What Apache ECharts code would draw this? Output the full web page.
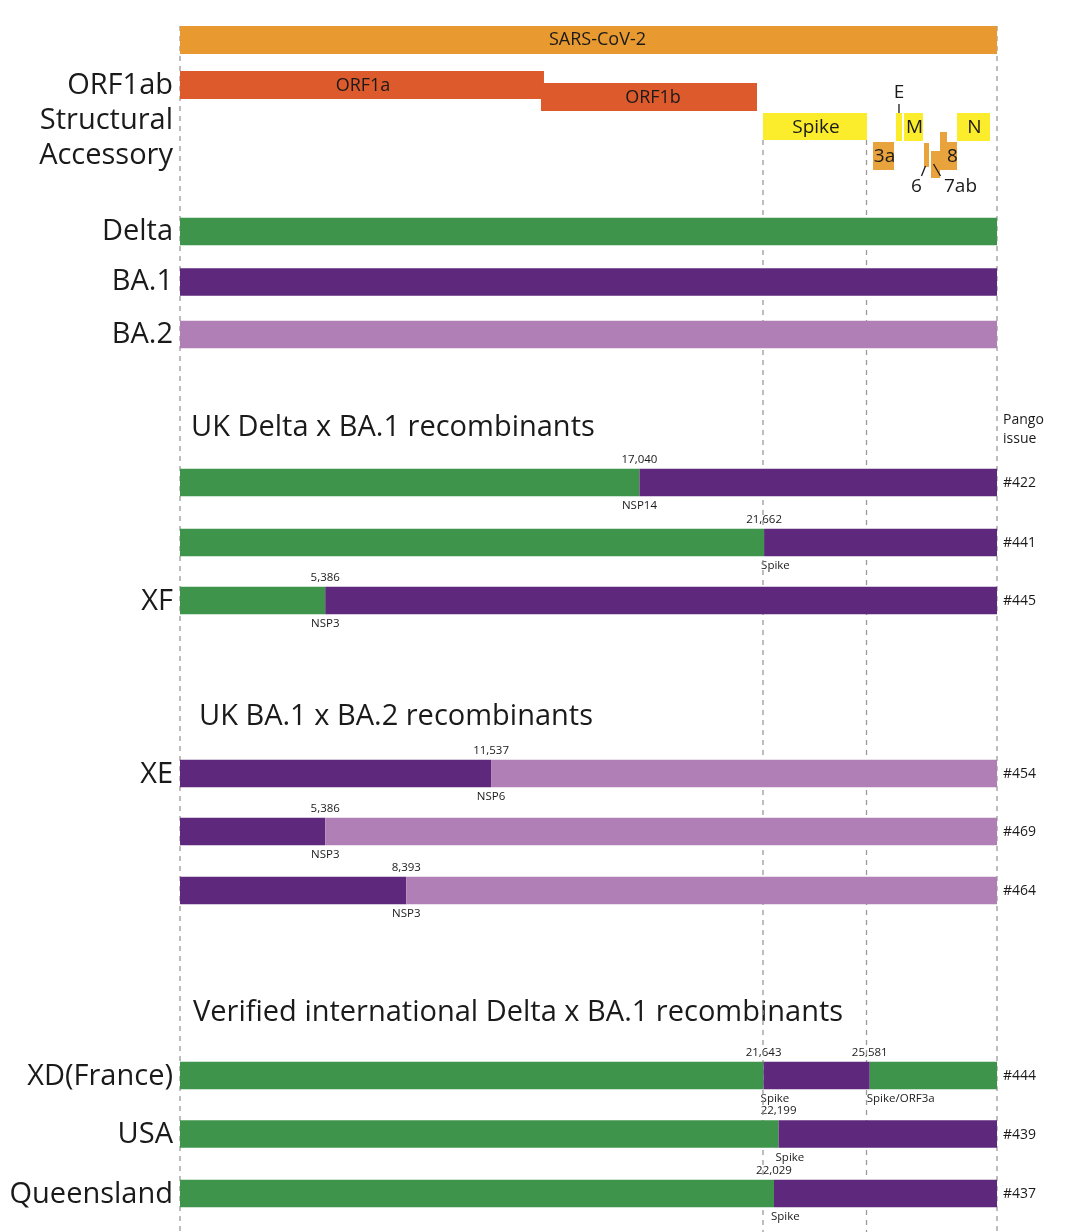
<!DOCTYPE html>
<html><head><meta charset="utf-8">
<script src="https://cdn.jsdelivr.net/npm/echarts@6/dist/echarts.min.js"></script>
<style>html,body{margin:0;padding:0;background:#fff}#c{width:1080px;height:1232px}</style>
</head><body><div id="c"></div>
<script>
// ---------------- DATA ----------------
const genomeSpan = 30300;               // drawn genome extent (schematic)
const genomeName = 'SARS-CoV-2';

const geneNames  = ['ORF1a','ORF1b','Spike','E','M','N','3a','6','7a','7b','8'];
const geneStart  = [0, 13388, 21621, 26554, 26850, 28816, 25701, 27592, 27852, 28186, 28186];
const geneEnd    = [13499, 21399, 25478, 26776, 27555, 30040, 26480, 27778, 28186, 28445, 28816];
const geneClass  = ['ORF1ab','ORF1ab','Structural','Structural','Structural','Structural','Accessory','Accessory','Accessory','Accessory','Accessory'];
const geneClasses = ['ORF1ab','Structural','Accessory'];

const parentLineages = ['Delta','BA.1','BA.2'];

const groupTitles = ['UK Delta x BA.1 recombinants','UK BA.1 x BA.2 recombinants','Verified international Delta x BA.1 recombinants'];
const recombinantNames = ['', '', 'XF', 'XE', '', '', 'XD(France)', 'USA', 'Queensland'];
const pangoIssues      = ['#422','#441','#445','#454','#469','#464','#444','#439','#437'];
const breakpoints      = [[17040],[21662],[5386],[11537],[5386],[8393],[21643,25581],[22199],[22029]];
const breakpointGenes  = [['NSP14'],['Spike'],['NSP3'],['NSP6'],['NSP3'],['NSP3'],['Spike','Spike/ORF3a'],['Spike'],['Spike']];
const segmentParents   = [['Delta','BA.1'],['Delta','BA.1'],['Delta','BA.1'],['BA.1','BA.2'],['BA.1','BA.2'],['BA.1','BA.2'],['Delta','BA.1','Delta'],['Delta','BA.1'],['Delta','BA.1']];

const boundaryLines = [0, 21621, 25460, 30300];
const pangoHeader = ['Pango','issue'];

// ---------------- LAYOUT / STYLE ----------------
const FONT = "'Open Sans', sans-serif";
const TXT = '#1a1a1a';
const COLORS = {genome:'#E8992F', ORF1ab:'#DC5A2B', Structural:'#FBEC2C', Accessory:'#E9A33C',
                'Delta':'#3F944B', 'BA.1':'#5E287C', 'BA.2':'#B07FB5'};
const LAYOUT = {
  genomeRow:[26,54],
  geneRows:{ORF1a:[71,99], ORF1b:[83,111], Spike:[113,140], E:[113,141], M:[113,141], N:[113,141],
            '3a':[142,170], '6':[143,167], '7a':[151,178], '7b':[132,160], '8':[142,170]},
  classLabelY:[86,121,156],
  lineageY:[231.5,282,334.5],
  recY:[482.5,542.5,600.5,773.5,831.5,890.5,1075.5,1134,1193.5],
  barH:27.5,
  titleY:[428,717,1013], titleDx:[11,19,13],
  pangoHeaderY:[420,439],
  boundaryTop:[26,140,140,26], boundaryBottom:1232
};

function txt(x, y, text, size, align, extra){
  return {type:'text', style:Object.assign({text:text, x:x, y:y, fill:TXT, textFill:TXT,
    font:size+'px '+FONT, textAlign:align||'left', align:align||'left',
    textVerticalAlign:'middle', verticalAlign:'middle'}, extra||{})};
}
function rectEl(api, s, e, y0, y1, color){
  const p0 = api.coord([s, y0]), p1 = api.coord([e, y1]);
  return {type:'rect', shape:{x:p0[0], y:p0[1], width:p1[0]-p0[0], height:p1[1]-p0[1]}, style:{fill:color}};
}

// flattened helpers
const segs = [];
breakpoints.forEach((bps, r) => {
  const edges = [0].concat(bps, [genomeSpan]);
  for (let k = 0; k < edges.length-1; k++) segs.push([edges[k], edges[k+1], r, segmentParents[r][k]]);
});
const bpItems = [];
breakpoints.forEach((bps, r) => bps.forEach((b, k) => bpItems.push([b, r, k])));

const chart = echarts.init(document.getElementById('c'));
const base = {type:'custom', coordinateSystem:'cartesian2d', clip:false, silent:true};

chart.setOption({
  animation:false,
  grid:{left:180, right:83, top:0, bottom:0},
  xAxis:{type:'value', min:0, max:genomeSpan, show:false},
  yAxis:{type:'value', min:0, max:1232, inverse:true, show:false},
  series:[
    // titles
    Object.assign({}, base, {z:1, data:groupTitles.map((t,i)=>[0,LAYOUT.titleY[i]]),
      renderItem:(p, api) => { const c = api.coord([0, LAYOUT.titleY[p.dataIndex]]);
        return txt(c[0]+LAYOUT.titleDx[p.dataIndex], c[1], groupTitles[p.dataIndex], 29, 'left'); }}),
    // left row labels
    Object.assign({}, base, {z:1, data:[[0,0]],
      renderItem:(p, api) => {
        const ch = [];
        const lx = api.coord([0,0])[0] - 7;
        geneClasses.forEach((g,i)=>ch.push(txt(lx, api.coord([0,LAYOUT.classLabelY[i]])[1], g, 29, 'right')));
        parentLineages.forEach((g,i)=>ch.push(txt(lx, api.coord([0,LAYOUT.lineageY[i]])[1], g, 29, 'right')));
        recombinantNames.forEach((g,i)=>{ if (g) ch.push(txt(lx, api.coord([0,LAYOUT.recY[i]])[1]+1, g, 29, 'right')); });
        return {type:'group', children:ch};
      }}),
    // pango issues
    Object.assign({}, base, {z:1, data:pangoIssues.map((t,i)=>[genomeSpan, LAYOUT.recY[i]]),
      renderItem:(p, api) => { const c = api.coord([genomeSpan, LAYOUT.recY[p.dataIndex]]);
        const ch = [txt(c[0]+6, c[1]+1, pangoIssues[p.dataIndex], 14, 'left')];
        if (p.dataIndex === 0) pangoHeader.forEach((h,j)=>ch.push(txt(c[0]+6, api.coord([0,LAYOUT.pangoHeaderY[j]])[1], h, 14, 'left')));
        return {type:'group', children:ch}; }}),
    // breakpoint labels
    Object.assign({}, base, {z:1, data:bpItems,
      renderItem:(p, api) => {
        const it = bpItems[p.dataIndex], b = it[0], r = it[1], k = it[2];
        const y = LAYOUT.recY[r], h = LAYOUT.barH/2;
        const top = api.coord([b, y-h]), bot = api.coord([b, y+h]);
        const gene = breakpointGenes[r][k];
        const centred = gene.indexOf('NSP') === 0;
        return {type:'group', children:[
          txt(top[0], top[1]-9.5, b.toLocaleString('en-US'), 11.5, 'center'),
          txt(centred ? bot[0] : bot[0]-3, bot[1]+9.5, gene, 11.5, centred ? 'center' : 'left')
        ]};
      }}),
    // dashed boundary lines
    Object.assign({}, base, {z:2, data:boundaryLines.map((v,i)=>[v, LAYOUT.boundaryTop[i]]),
      renderItem:(p, api) => { const v = boundaryLines[p.dataIndex];
        const a = api.coord([v, LAYOUT.boundaryTop[p.dataIndex]]), b = api.coord([v, LAYOUT.boundaryBottom]);
        return {type:'line', shape:{x1:a[0], y1:a[1], x2:b[0], y2:b[1]},
          style:{stroke:'#9a9a9a', lineWidth:1.3, lineDash:[5,5]}}; }}),
    // genome bar
    Object.assign({}, base, {z:3, data:[[0, genomeSpan]],
      renderItem:(p, api) => { const r = LAYOUT.genomeRow;
        const c = api.coord([genomeSpan/2, (r[0]+r[1])/2]);
        return {type:'group', children:[rectEl(api, 0, genomeSpan, r[0], r[1], COLORS.genome),
          txt(c[0]+9, c[1], genomeName, 18, 'center')]}; }}),
    // genes
    Object.assign({}, base, {z:3, data:geneNames.map((g,i)=>[geneStart[i], geneEnd[i]]),
      renderItem:(p, api) => { const i = p.dataIndex, g = geneNames[i], r = LAYOUT.geneRows[g];
        const ch = [rectEl(api, geneStart[i], geneEnd[i], r[0], r[1], COLORS[geneClass[i]])];
        const c = api.coord([(geneStart[i]+geneEnd[i])/2, (r[0]+r[1])/2]);
        const tl = api.coord([geneStart[i], r[0]]), br = api.coord([geneEnd[i], r[1]]);
        if (['ORF1a','ORF1b','Spike','M','N','3a'].indexOf(g) >= 0) {
          const size = (g==='ORF1a'||g==='ORF1b') ? 18 : 19;
          ch.push(txt(c[0]+(g==='ORF1b'?4:1), c[1]+1, g, size, 'center'));
        } else if (g === 'E') {
          ch.push({type:'line', shape:{x1:c[0], y1:tl[1]-9, x2:c[0], y2:tl[1]}, style:{stroke:TXT, lineWidth:1.3}});
          ch.push(txt(c[0], tl[1]-20, 'E', 19, 'center'));
        } else if (g === '6') {
          ch.push({type:'line', shape:{x1:c[0]-1, y1:br[1]-1, x2:c[0]-5, y2:br[1]+9}, style:{stroke:TXT, lineWidth:1.3}});
          ch.push(txt(c[0]-10, br[1]+20, '6', 19, 'center'));
        } else if (g === '7a') {
          ch.push({type:'line', shape:{x1:c[0]-2, y1:br[1]-14, x2:c[0]+5, y2:br[1]-2}, style:{stroke:TXT, lineWidth:1.3}});
          ch.push(txt(c[0]+25, br[1]+9, '7ab', 19, 'center'));
        } else if (g === '8') {
          ch.push(txt(c[0]+4, c[1]+1, '8', 19, 'center'));
        }
        return {type:'group', children:ch}; }}),
    // parent lineage bars
    Object.assign({}, base, {z:3, data:parentLineages.map((g,i)=>[0, genomeSpan]),
      renderItem:(p, api) => { const y = LAYOUT.lineageY[p.dataIndex], h = LAYOUT.barH/2;
        return rectEl(api, 0, genomeSpan, y-h, y+h, COLORS[parentLineages[p.dataIndex]]); }}),
    // recombinant segments
    Object.assign({}, base, {z:3, data:segs.map(s=>[s[0], s[1]]),
      renderItem:(p, api) => { const s = segs[p.dataIndex], y = LAYOUT.recY[s[2]], h = LAYOUT.barH/2;
        return rectEl(api, s[0], s[1], y-h, y+h, COLORS[s[3]]); }})
  ]
});
</script></body></html>
